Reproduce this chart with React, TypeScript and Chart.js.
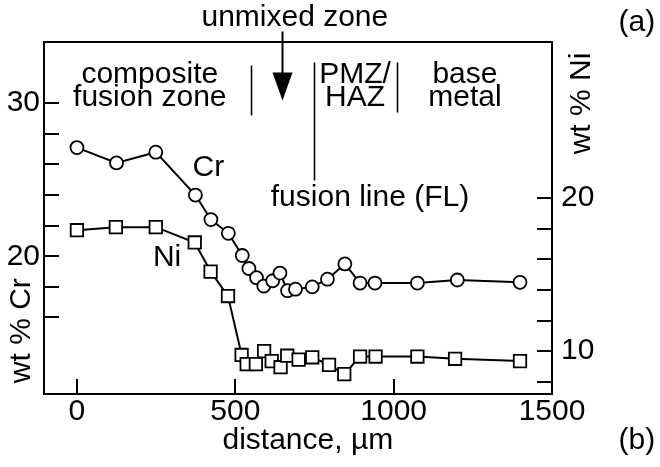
import React, { useEffect, useRef } from 'react';
import { Chart, registerables } from 'chart.js';

Chart.register(...registerables);

// ---- data ----
const crDistance = [0, 125, 249, 374, 423, 478, 522, 543, 567, 590, 618, 641, 665, 690, 743, 791, 846, 894, 941, 1075, 1201, 1399];
const crValues = [27.1, 26.1, 26.8, 24.0, 22.4, 21.5, 20.05, 19.2, 18.6, 18.05, 18.4, 18.9, 17.75, 17.85, 18.0, 18.5, 19.5, 18.25, 18.25, 18.25, 18.45, 18.3];
const niDistance = [0, 123, 249, 372, 422, 477, 520, 536, 565, 591, 615, 643, 664, 700, 743, 796, 844, 894, 943, 1075, 1194, 1399];
const niValues = [17.9, 18.1, 18.1, 17.1, 15.2, 13.6, 9.75, 9.15, 9.15, 10.0, 9.35, 8.95, 9.7, 9.45, 9.6, 9.1, 8.5, 9.65, 9.65, 9.65, 9.5, 9.35];

const xTicks = [0, 500, 1000, 1500];
const crTicks = [16, 18, 20, 22, 24, 26, 28, 30];
const crLabelled = [20, 30];
const niTicks = [8, 10, 12, 14, 16, 18, 20];
const niLabelled = [10, 20];

// annotations, in data units (distance in µm, wt % Cr)
const noteTexts = ['unmixed zone', '(a)', 'composite', 'fusion zone', 'PMZ/', 'HAZ', 'base', 'metal', 'Cr', 'fusion line (FL)', 'Ni', '(b)', 'distance, µm'];
const noteX = [688, 1768, 230, 230, 878, 878, 1225, 1225, 365, 612, 240, 1768, 729];
const noteY = [35.6, 35.28, 31.88, 30.37, 31.88, 30.37, 31.88, 30.37, 25.8, 23.84, 19.92, 7.95, 7.95];
const noteAlign = ['center', 'center', 'center', 'center', 'center', 'center', 'center', 'center', 'left', 'left', 'left', 'center', 'center'];

const sepX = [549, 748, 1010];
const sepTop = [32.46, 32.66, 32.66];
const sepBottom = [29.2, 24.95, 29.39];

const arrowX = 647;
const arrowTop = 34.69;
const arrowHeadStart = 32.0;
const arrowTip = 30.18;

const rotTexts = ['wt % Cr', 'wt % Ni'];
const rotX = [-174, 1595];
const rotY = [15.14, 29.98];

const FONT = "'Liberation Sans', Arial, Helvetica, sans-serif";
const FS = 30;
const TICK_FS = 30;

const notesPlugin = {
  id: 'notes',
  afterDraw(chart: any) {
    const { ctx, chartArea, scales } = chart;
    const xs = scales.x;
    const ys = scales.yCr;
    ctx.save();
    ctx.strokeStyle = '#000';
    ctx.fillStyle = '#000';
    // top frame line
    ctx.lineWidth = 2;
    ctx.beginPath();
    ctx.moveTo(chartArea.left - 1, chartArea.top);
    ctx.lineTo(chartArea.right + 1, chartArea.top);
    ctx.stroke();

    ctx.font = `${FS}px ${FONT}`;
    ctx.textBaseline = 'middle';
    noteTexts.forEach((t, i) => {
      ctx.textAlign = noteAlign[i];
      ctx.fillText(t, xs.getPixelForValue(noteX[i]), ys.getPixelForValue(noteY[i]));
    });

    ctx.lineWidth = 1.6;
    sepX.forEach((v, i) => {
      const px = Math.round(xs.getPixelForValue(v)) + 0.5;
      ctx.beginPath();
      ctx.moveTo(px, ys.getPixelForValue(sepTop[i]));
      ctx.lineTo(px, ys.getPixelForValue(sepBottom[i]));
      ctx.stroke();
    });

    // arrow
    const ax = Math.round(xs.getPixelForValue(arrowX)) + 0.5;
    const aTop = ys.getPixelForValue(arrowTop);
    const aHead = ys.getPixelForValue(arrowHeadStart);
    const aTip = ys.getPixelForValue(arrowTip);
    ctx.lineWidth = 2;
    ctx.beginPath();
    ctx.moveTo(ax, aTop);
    ctx.lineTo(ax, aHead + 2);
    ctx.stroke();
    ctx.beginPath();
    ctx.moveTo(ax - 10, aHead);
    ctx.lineTo(ax + 10, aHead);
    ctx.lineTo(ax, aTip);
    ctx.closePath();
    ctx.fill();

    // rotated axis titles
    ctx.textAlign = 'center';
    rotTexts.forEach((t, i) => {
      ctx.save();
      ctx.translate(xs.getPixelForValue(rotX[i]), ys.getPixelForValue(rotY[i]));
      ctx.rotate(-Math.PI / 2);
      ctx.fillText(t, 0, 0);
      ctx.restore();
    });
    ctx.restore();
  },
};

export default function App() {
  const ref = useRef<HTMLCanvasElement | null>(null);
  useEffect(() => {
    if (!ref.current) return;
    Chart.defaults.font.family = FONT;
    Chart.defaults.font.size = TICK_FS;
    Chart.defaults.color = '#000';
    const chart = new Chart(ref.current, {
      type: 'line',
      data: {
        datasets: [
          {
            label: 'Cr',
            data: crDistance.map((x, i) => ({ x, y: crValues[i] })),
            yAxisID: 'yCr',
            borderColor: '#000',
            borderWidth: 2,
            pointStyle: 'circle',
            pointRadius: 6.5,
            pointBorderWidth: 1.8,
            pointBackgroundColor: '#fff',
            pointBorderColor: '#000',
            tension: 0,
          },
          {
            label: 'Ni',
            data: niDistance.map((x, i) => ({ x, y: niValues[i] })),
            yAxisID: 'yNi',
            borderColor: '#000',
            borderWidth: 2,
            pointStyle: 'rect',
            pointRadius: 8.8,
            pointBorderWidth: 1.8,
            pointBackgroundColor: '#fff',
            pointBorderColor: '#000',
            tension: 0,
          },
        ],
      },
      options: {
        animation: false,
        responsive: false,
        maintainAspectRatio: false,
        layout: { padding: { top: 42, left: 0, right: 0, bottom: 0 } },
        plugins: { legend: { display: false }, tooltip: { enabled: false } },
        scales: {
          x: {
            type: 'linear',
            position: 'bottom',
            min: -104,
            max: 1500,
            afterBuildTicks: (s: any) => { s.ticks = xTicks.map((v) => ({ value: v })); },
            afterFit: (s: any) => { s.height = 73; },
            grid: { drawOnChartArea: false, drawTicks: true, tickLength: -15, color: '#000', lineWidth: 2 },
            border: { display: true, color: '#000', width: 2 },
            ticks: {
              padding: 15,
              autoSkip: false,
              maxRotation: 0,
              font: { size: TICK_FS },
              color: '#000',
              callback: (v: any) => String(v),
            },
          },
          yCr: {
            type: 'linear',
            position: 'left',
            min: 11,
            max: 34,
            afterBuildTicks: (s: any) => { s.ticks = crTicks.map((v) => ({ value: v })); },
            afterFit: (s: any) => { s.width = 44; },
            grid: { drawOnChartArea: false, drawTicks: true, tickLength: -15, color: '#000', lineWidth: 2 },
            border: { display: true, color: '#000', width: 2 },
            ticks: {
              padding: 19,
              autoSkip: false,
              font: { size: TICK_FS },
              color: '#000',
              callback: (v: any) => (crLabelled.includes(Number(v)) ? String(v) : ''),
            },
          },
          yNi: {
            type: 'linear',
            position: 'right',
            min: 7.2,
            max: 30.2,
            afterBuildTicks: (s: any) => { s.ticks = niTicks.map((v) => ({ value: v })); },
            afterFit: (s: any) => { s.width = 108; },
            grid: { drawOnChartArea: false, drawTicks: true, tickLength: -15, color: '#000', lineWidth: 2 },
            border: { display: true, color: '#000', width: 2 },
            ticks: {
              padding: 24,
              autoSkip: false,
              font: { size: TICK_FS },
              color: '#000',
              callback: (v: any) => (niLabelled.includes(Number(v)) ? String(v) : ''),
            },
          },
        },
      },
      plugins: [notesPlugin],
    });
    return () => chart.destroy();
  }, []);

  return (
    <div style={{ position: 'fixed', left: 0, top: 0, width: 660, height: 467, background: '#fff' }}>
      <canvas ref={ref} width={660} height={467} style={{ display: 'block', width: 660, height: 467 }} />
    </div>
  );
}
